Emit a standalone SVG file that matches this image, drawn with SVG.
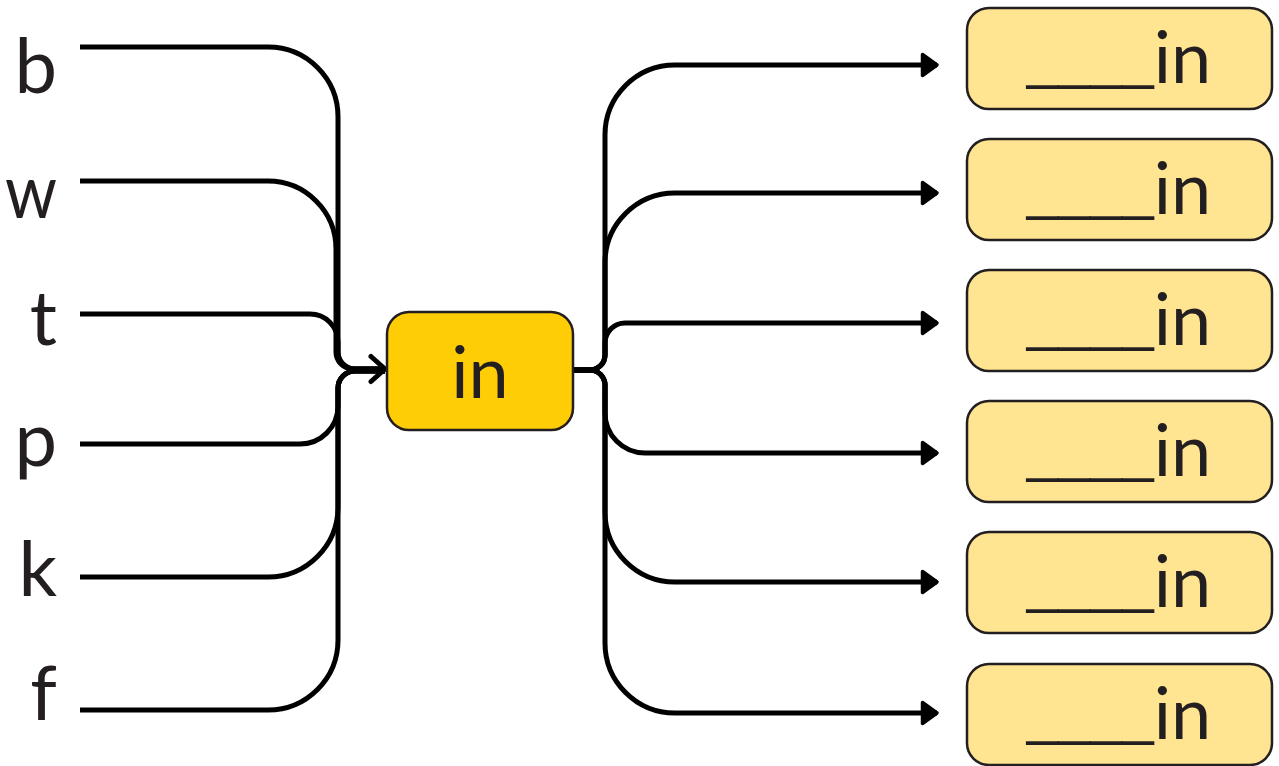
<svg xmlns="http://www.w3.org/2000/svg" width="1279" height="766" viewBox="0 0 1279 766">
<style>
.lbl{font-family:Lato,"Liberation Sans",sans-serif;font-size:76px;fill:#231F20;text-anchor:end}
.txt{font-family:Lato,"Liberation Sans",sans-serif;font-size:72px;fill:#231F20;text-anchor:middle}
.us{font-family:"Liberation Sans",Arial,sans-serif;font-size:57px}
.conn{fill:none;stroke:#000;stroke-width:5;stroke-linecap:butt}
.main{fill:#FFCD05;stroke:#231F20;stroke-width:2.5}
.opt{fill:#FFE491;stroke:#231F20;stroke-width:2.5}
</style>
<defs>
<marker id="tri" viewBox="0 0 20 26" refX="17" refY="13" markerWidth="20" markerHeight="26" markerUnits="userSpaceOnUse" orient="auto">
<path d="M2.5,2.5 L17,13 L2.5,23.5 Z" fill="#000" stroke="#000" stroke-width="3.5" stroke-linejoin="round"/>
</marker>
<marker id="chev" viewBox="0 0 22 32" refX="18" refY="16" markerWidth="22" markerHeight="32" markerUnits="userSpaceOnUse" orient="auto">
<path d="M4,3.5 L18,16 L4,28.5" fill="none" stroke="#000" stroke-width="5" stroke-linecap="round" stroke-linejoin="round"/>
</marker>
</defs>
<g id="connectors">
<path class="conn" d="M80,47 H268 A70,70 0 0 1 338,117 V352 A17,17 0 0 0 355,369 H385" marker-end="url(#chev)"/>
<path class="conn" d="M80,181 H268 A68,68 0 0 1 336,249 V352 A17,17 0 0 0 353,369 H385"/>
<path class="conn" d="M80,314 H310 A28,28 0 0 1 338,342 V352 A17,17 0 0 0 355,369 H385"/>
<path class="conn" d="M80,444 H300 A38,38 0 0 0 338,406 V388 A17,17 0 0 1 355,371 H385"/>
<path class="conn" d="M80,577 H268 A70,70 0 0 0 338,507 V388 A17,17 0 0 1 355,371 H385"/>
<path class="conn" d="M80,710 H268 A70,70 0 0 0 338,640 V388 A17,17 0 0 1 355,371 H385"/>
<path class="conn" d="M573,370 H590 A15,15 0 0 0 605,355 V135 A70,70 0 0 1 675,65 H937" marker-end="url(#tri)"/>
<path class="conn" d="M573,370 H590 A15,15 0 0 0 605,355 V263 A70,70 0 0 1 675,193 H937" marker-end="url(#tri)"/>
<path class="conn" d="M573,370 H590 A15,15 0 0 0 605,355 V343 A20,20 0 0 1 625,323 H937" marker-end="url(#tri)"/>
<path class="conn" d="M573,370 H590 A15,15 0 0 1 605,385 V413 A40,40 0 0 0 645,453 H937" marker-end="url(#tri)"/>
<path class="conn" d="M573,370 H590 A15,15 0 0 1 605,385 V512 A70,70 0 0 0 675,582 H937" marker-end="url(#tri)"/>
<path class="conn" d="M573,370 H590 A15,15 0 0 1 605,385 V643 A70,70 0 0 0 675,713 H937" marker-end="url(#tri)"/>
</g>
<g id="label-b"><text class="lbl" x="57" y="93">b</text></g>
<g id="label-w"><text class="lbl" x="57" y="218" textLength="52" lengthAdjust="spacingAndGlyphs">w</text></g>
<g id="label-t"><text class="lbl" x="57" y="345">t</text></g>
<g id="label-p"><text class="lbl" x="57" y="466">p</text></g>
<g id="label-k"><text class="lbl" x="57" y="596">k</text></g>
<g id="label-f"><text class="lbl" x="57" y="720">f</text></g>
<g id="node-in"><rect class="main" x="387" y="312" width="186" height="118" rx="22"/><text class="txt" x="480" y="398">in</text></g>
<g id="out-1"><rect class="opt" x="967" y="8" width="305" height="101" rx="22"/><text class="txt" x="1119" y="83"><tspan class="us" dy="-5">____</tspan><tspan dy="5">in</tspan></text></g>
<g id="out-2"><rect class="opt" x="967" y="139" width="305" height="101" rx="22"/><text class="txt" x="1119" y="214"><tspan class="us" dy="-5">____</tspan><tspan dy="5">in</tspan></text></g>
<g id="out-3"><rect class="opt" x="967" y="270" width="305" height="101" rx="22"/><text class="txt" x="1119" y="345"><tspan class="us" dy="-5">____</tspan><tspan dy="5">in</tspan></text></g>
<g id="out-4"><rect class="opt" x="967" y="401" width="305" height="101" rx="22"/><text class="txt" x="1119" y="476"><tspan class="us" dy="-5">____</tspan><tspan dy="5">in</tspan></text></g>
<g id="out-5"><rect class="opt" x="967" y="532" width="305" height="101" rx="22"/><text class="txt" x="1119" y="607"><tspan class="us" dy="-5">____</tspan><tspan dy="5">in</tspan></text></g>
<g id="out-6"><rect class="opt" x="967" y="664" width="305" height="101" rx="22"/><text class="txt" x="1119" y="739"><tspan class="us" dy="-5">____</tspan><tspan dy="5">in</tspan></text></g>
</svg>
